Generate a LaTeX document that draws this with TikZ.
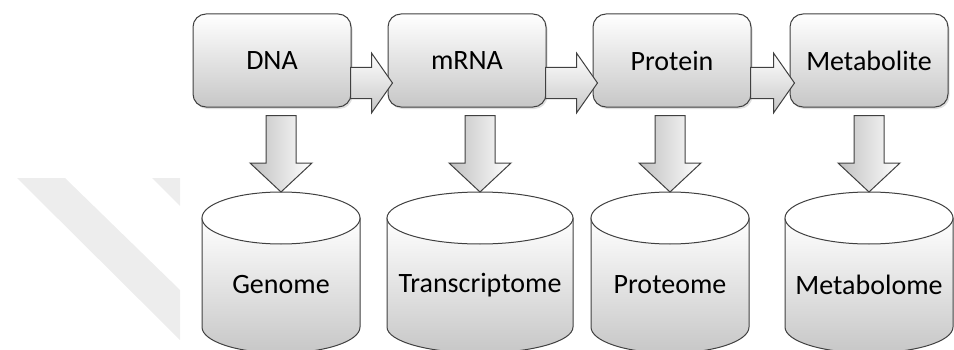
\documentclass[tikz,border=0pt]{standalone}
\usepackage{fontspec}
\setmainfont{Carlito}
\usetikzlibrary{positioning, calc, shadows}

\begin{document}
\begin{tikzpicture}[x=1pt, y=1pt, font=\fontsize{28}{33}\selectfont,
  box/.style={draw=black!75, line width=1pt, rounded corners=13pt, minimum width=158pt, minimum height=93pt, top color=white, bottom color=black!22, drop shadow={opacity=0.25, shadow xshift=1.5pt, shadow yshift=-2pt}},
  harrow/.style={draw=black!75, line width=1pt, top color=white, bottom color=black!22},
  varrow/.style={draw=black!75, line width=1pt, left color=black!25, right color=white},
  cylbody/.style={draw=black!75, line width=1pt, top color=white, bottom color=black!22},
  cyltop/.style={draw=black!75, line width=1pt, fill=white},
  wmark/.style={fill=black!7}]
	\useasboundingbox (0,0) rectangle (954,349);
	% watermark
	\fill[wmark] (17,171) -- (65,171) -- (180,59) -- (180,9) -- cycle;
	\fill[wmark] (152,171) -- (180,171) -- (180,143) -- cycle;
	% top row
	\node[box] (dna) at (272,288.5) {DNA};
	\node[box, right=36pt of dna] (mrna) {mRNA};
	\node[box, right=46pt of mrna] (protein) {Protein};
	\node[box, right=38pt of protein] (metabolite) {Metabolite};
	% databases
	\path[cylbody] (202,131) -- (202,22) arc[start angle=180, end angle=360, x radius=79, y radius=26] -- (360,131) -- cycle;
	\path[cyltop] (281,131) ellipse [x radius=79, y radius=26];
	\path[cylbody] (387,131) -- (387,22) arc[start angle=180, end angle=360, x radius=93, y radius=26] -- (573,131) -- cycle;
	\path[cyltop] (480,131) ellipse [x radius=93, y radius=26];
	\path[cylbody] (591,131) -- (591,22) arc[start angle=180, end angle=360, x radius=79, y radius=26] -- (749,131) -- cycle;
	\path[cyltop] (670,131) ellipse [x radius=79, y radius=26];
	\path[cylbody] (785,131) -- (785,22) arc[start angle=180, end angle=360, x radius=84, y radius=26] -- (953,131) -- cycle;
	\path[cyltop] (869,131) ellipse [x radius=84, y radius=26];
	\coordinate (genometop) at (281,157);
	\coordinate (transtop) at (480,157);
	\coordinate (proteometop) at (670,157);
	\coordinate (metabolometop) at (869,157);
	\node (genome) at (281,64) {Genome};
	\node (trans) at (480,64) {Transcriptome};
	\node (proteome) at (670,64) {Proteome};
	\node (metabolome) at (869,64) {Metabolome};
	% arrows along the row
	\path[harrow] let \p1=(dna.east), \p2=(mrna.west) in (\x1-1,\y1-7) -- (\x2-16,\y1-7) -- (\x2-16,\y1+7.5) -- (\x2+5,\y1-22.5) -- (\x2-16,\y1-52.5) -- (\x2-16,\y1-38) -- (\x1-1,\y1-38) -- cycle;
	\path[harrow] let \p1=(mrna.east), \p2=(protein.west) in (\x1-1,\y1-7) -- (\x2-16,\y1-7) -- (\x2-16,\y1+7.5) -- (\x2+5,\y1-22.5) -- (\x2-16,\y1-52.5) -- (\x2-16,\y1-38) -- (\x1-1,\y1-38) -- cycle;
	\path[harrow] let \p1=(protein.east), \p2=(metabolite.west) in (\x1-1,\y1-7) -- (\x2-16,\y1-7) -- (\x2-16,\y1+7.5) -- (\x2+5,\y1-22.5) -- (\x2-16,\y1-52.5) -- (\x2-16,\y1-38) -- (\x1-1,\y1-38) -- cycle;
	% arrows down
	\path[varrow] let \p1=(dna.south), \p2=(genometop) in (\x2-15,\y1-8) -- (\x2-15,\y2+29) -- (\x2-31,\y2+29) -- (\x2,\y2) -- (\x2+31,\y2+29) -- (\x2+15,\y2+29) -- (\x2+15,\y1-8) -- cycle;
	\path[varrow] let \p1=(mrna.south), \p2=(transtop) in (\x2-15,\y1-8) -- (\x2-15,\y2+29) -- (\x2-31,\y2+29) -- (\x2,\y2) -- (\x2+31,\y2+29) -- (\x2+15,\y2+29) -- (\x2+15,\y1-8) -- cycle;
	\path[varrow] let \p1=(protein.south), \p2=(proteometop) in (\x2-15,\y1-8) -- (\x2-15,\y2+29) -- (\x2-31,\y2+29) -- (\x2,\y2) -- (\x2+31,\y2+29) -- (\x2+15,\y2+29) -- (\x2+15,\y1-8) -- cycle;
	\path[varrow] let \p1=(metabolite.south), \p2=(metabolometop) in (\x2-15,\y1-8) -- (\x2-15,\y2+29) -- (\x2-31,\y2+29) -- (\x2,\y2) -- (\x2+31,\y2+29) -- (\x2+15,\y2+29) -- (\x2+15,\y1-8) -- cycle;
\end{tikzpicture}
\end{document}
